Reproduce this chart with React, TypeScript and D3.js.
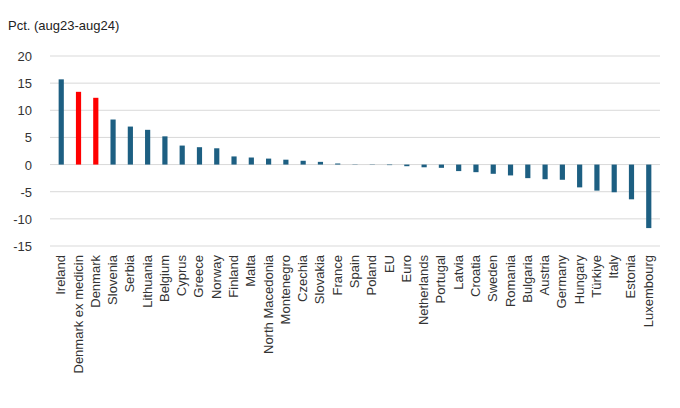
import { useEffect, useRef } from 'react';
import * as d3 from 'd3';

const countries = ['Ireland', 'Denmark ex medicin', 'Denmark', 'Slovenia', 'Serbia', 'Lithuania', 'Belgium', 'Cyprus', 'Greece', 'Norway', 'Finland', 'Malta', 'North Macedonia', 'Montenegro', 'Czechia', 'Slovakia', 'France', 'Spain', 'Poland', 'EU', 'Euro', 'Netherlands', 'Portugal', 'Latvia', 'Croatia', 'Sweden', 'Romania', 'Bulgaria', 'Austria', 'Germany', 'Hungary', 'Türkiye', 'Italy', 'Estonia', 'Luxembourg'];
const values = [15.7, 13.4, 12.3, 8.3, 7.0, 6.4, 5.2, 3.5, 3.2, 3.0, 1.5, 1.3, 1.1, 0.9, 0.7, 0.5, 0.2, 0.05, -0.05, -0.1, -0.3, -0.5, -0.6, -1.2, -1.4, -1.7, -2.0, -2.5, -2.7, -2.8, -4.2, -4.8, -5.1, -6.4, -11.7];
const highlighted = ['Denmark ex medicin', 'Denmark'];
const yTicks = [20, 15, 10, 5, 0, -5, -10, -15];

export default function App() {
  const ref = useRef<SVGSVGElement>(null);
  useEffect(() => {
    const svg = d3.select(ref.current);
    svg.selectAll('*').remove();
    const font = 'Liberation Sans, Arial, sans-serif';
    const x = d3.scaleBand<string>().domain(countries).range([50, 660]).paddingInner(0.7).paddingOuter(0.5);
    const y = d3.scaleLinear().domain([-15, 20]).range([246, 56]);

    svg.append('text').attr('x', 8).attr('y', 30).attr('font-family', font).attr('font-size', 13).attr('fill', '#222').text('Pct. (aug23-aug24)');

    svg.append('g').selectAll('line').data(yTicks).join('line')
      .attr('x1', 50).attr('x2', 660).attr('y1', d => y(d)).attr('y2', d => y(d))
      .attr('stroke', '#d9d9d9').attr('stroke-width', 1);
    svg.append('g').selectAll('text').data(yTicks).join('text')
      .attr('x', 32).attr('y', d => y(d) + 5).attr('text-anchor', 'end')
      .attr('font-family', font).attr('font-size', 13).attr('fill', '#333').text(d => d);

    svg.append('g').selectAll('rect').data(countries).join('rect')
      .attr('x', d => x(d)!).attr('width', x.bandwidth())
      .attr('y', (d, i) => y(Math.max(0, values[i])))
      .attr('height', (d, i) => Math.abs(y(values[i]) - y(0)))
      .attr('fill', d => highlighted.includes(d) ? '#ff0000' : '#1d5f82');

    svg.append('g').selectAll('text').data(countries).join('text')
      .attr('transform', d => `translate(${x(d)! + x.bandwidth() / 2 + 4},255) rotate(-90)`)
      .attr('text-anchor', 'end').attr('font-family', font).attr('font-size', 13).attr('fill', '#333')
      .text(d => d);
  }, []);
  return <svg ref={ref} width={680} height={408} style={{ position: 'absolute', left: 0, top: 0 }} />;
}
